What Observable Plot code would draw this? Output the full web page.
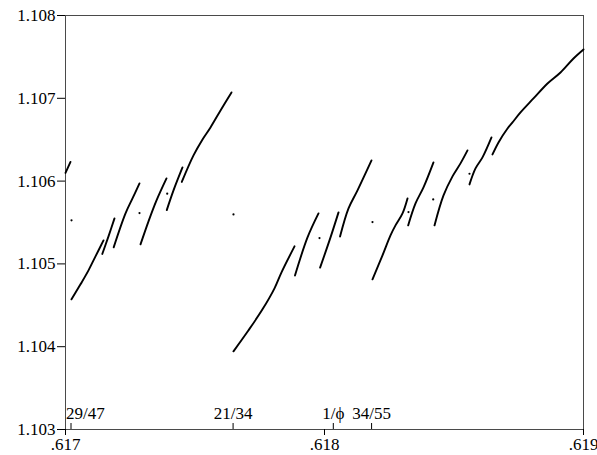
<!DOCTYPE html>
<html><head><meta charset="utf-8">
<script src="https://cdn.jsdelivr.net/npm/d3@7"></script>
<script src="https://cdn.jsdelivr.net/npm/@observablehq/plot@0.6"></script>
<style>body{margin:0;background:#fff}</style>
</head><body><div id="chart"></div>
<script>
const xTicks = [0.617, 0.618, 0.619];
const yTicks = [1.103, 1.104, 1.105, 1.106, 1.107, 1.108];
const ratValues = [29/47, 21/34, 2/(1+Math.sqrt(5)), 34/55];
const ratLabels = ["29/47", "21/34", "1/\u03D5", "34/55"];

const curve0 = [[0.6170000,1.106099],[0.6170193,1.106232]];
const curve1a = [[0.6170232,1.104572],[0.6170579,1.104753],[0.6170888,1.104922],[0.6171158,1.105091],[0.6171467,1.105284]];
const curve1b = [[0.6171420,1.105120],[0.6171660,1.105333],[0.6171892,1.105550]];
const curve1c = [[0.6171860,1.105200],[0.6172317,1.105610],[0.6172587,1.105791],[0.6172857,1.105972]];
const curve2a = [[0.6172896,1.105236],[0.6173205,1.105514],[0.6173514,1.105767],[0.6173900,1.106033]];
const curve2b = [[0.6173910,1.105650],[0.6174170,1.105888],[0.6174517,1.106165]];
const curve2c = [[0.6174490,1.105990],[0.6174942,1.106310],[0.6175290,1.106503],[0.6175598,1.106648],[0.6175985,1.106853],[0.6176409,1.107071]];
const curve3a = [[0.6176486,1.103944],[0.6177066,1.104198],[0.6177606,1.104451],[0.6178069,1.104705],[0.6178340,1.104898],[0.6178842,1.105212]];
const curve3b = [[0.6178860,1.104860],[0.6179344,1.105320],[0.6179768,1.105610]];
const curve3c = [[0.6179830,1.104955],[0.6180232,1.105320],[0.6180541,1.105622]];
const curve3d = [[0.6180600,1.105330],[0.6180927,1.105670],[0.6181274,1.105888],[0.6181815,1.106250]];
const curve4a = [[0.6181853,1.104814],[0.6182239,1.105103],[0.6182548,1.105345],[0.6182741,1.105465],[0.6183012,1.105610],[0.6183205,1.105791]];
const curve4b = [[0.6183230,1.105465],[0.6183514,1.105731],[0.6183822,1.105924],[0.6184208,1.106226]];
const curve5 = [[0.6184247,1.105465],[0.6184595,1.105827],[0.6184942,1.106057],[0.6185251,1.106214],[0.6185521,1.106371]];
const curve6a = [[0.6185598,1.105960],[0.6185830,1.106153],[0.6186100,1.106286],[0.6186448,1.106527]];
const curve6b = [[0.6186486,1.106322],[0.6186718,1.106467],[0.6187066,1.106636],[0.6187259,1.106709],[0.6187568,1.106829],[0.6188069,1.106998],[0.6188610,1.107179],[0.6189112,1.107312],[0.6189614,1.107481],[0.6190000,1.107590]];
const isolatedDots = [[0.6170232,1.105526],[0.6172857,1.105614],[0.6173927,1.105848],[0.6176486,1.105598],[0.6179807,1.105312],[0.6181853,1.105505],[0.6183243,1.105626],[0.6184197,1.105779],[0.6185598,1.106089]];

const curves = [curve0, curve1a, curve1b, curve1c, curve2a, curve2b, curve2c, curve3a, curve3b, curve3c, curve3d, curve4a, curve4b, curve5, curve6a, curve6b];
const points = curves.flatMap((c, i) => c.map(([x, y]) => ({x, y, seg: i})));
const rats = ratValues.map((value, i) => ({value, label: ratLabels[i]}));

const serif = "'Liberation Serif','Times New Roman',Times,serif";
const chart = Plot.plot({
  width: 597, height: 455,
  marginTop: 15, marginRight: 14, marginBottom: 26, marginLeft: 65,
  style: {fontFamily: serif, fontSize: "17px", background: "white", color: "black"},
  x: {domain: [0.617, 0.619]},
  y: {domain: [1.103, 1.108]},
  marks: [
    Plot.frame({stroke: "#4a4a4a"}),
    Plot.axisY(yTicks, {tickSize: 8, tickPadding: 2, tickFormat: d3.format(".3f"), label: null}),
    Plot.axisX(xTicks, {tickSize: 6, tickPadding: 2, tickFormat: d => d3.format(".3f")(d).replace(/^0/, ""), label: null}),
    Plot.axisX(ratValues, {tickSize: -6, fill: "none", label: null}),
    Plot.text(rats.slice(0, 1), {x: "value", text: "label", frameAnchor: "bottom", lineAnchor: "bottom", textAnchor: "start", dx: -5, dy: -10.5}),
    Plot.text(rats.slice(1), {x: "value", text: "label", frameAnchor: "bottom", lineAnchor: "bottom", dy: -10.5}),
    Plot.line(points, {x: "x", y: "y", z: "seg", curve: "catmull-rom", stroke: "black", strokeWidth: 1.9, strokeLinecap: "round"}),
    Plot.dot(isolatedDots, {x: d => d[0], y: d => d[1], r: 1.1, fill: "black"})
  ]
});
document.getElementById("chart").appendChild(chart);
</script>
</body></html>
